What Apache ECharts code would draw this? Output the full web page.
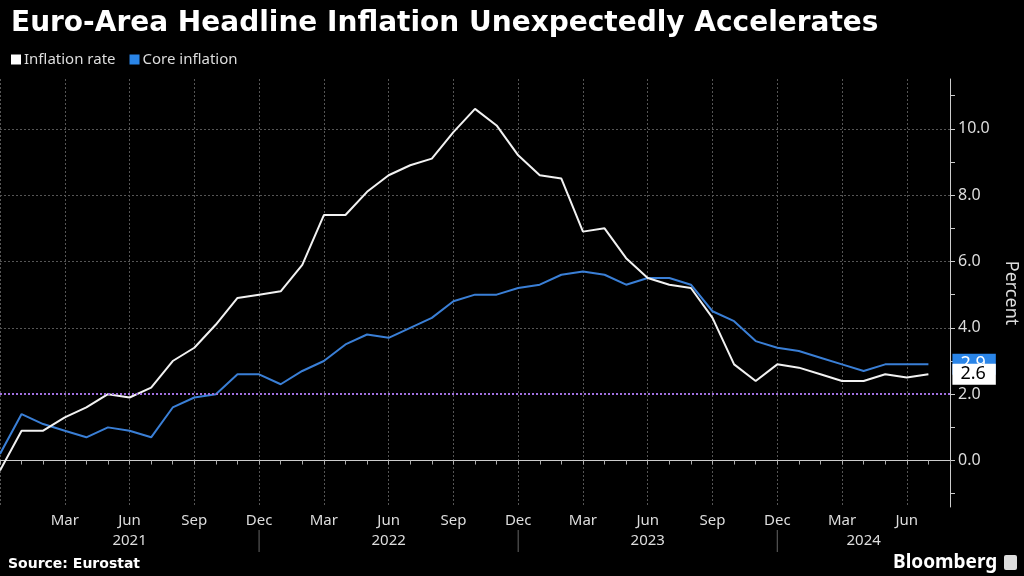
<!DOCTYPE html>
<html>
<head>
<meta charset="utf-8">
<script src="https://cdn.jsdelivr.net/npm/echarts@6/dist/echarts.min.js"></script>
<style>
html,body{margin:0;padding:0;background:#000;}
#chart{width:1024px;height:576px;}
</style>
</head>
<body>
<div id="chart"></div>
<script>
// Months from Dec 2020 to Aug 2024 (last slot is empty space before the axis)
const months = [
  '2020-12',
  '2021-01','2021-02','2021-03','2021-04','2021-05','2021-06','2021-07','2021-08','2021-09','2021-10','2021-11','2021-12',
  '2022-01','2022-02','2022-03','2022-04','2022-05','2022-06','2022-07','2022-08','2022-09','2022-10','2022-11','2022-12',
  '2023-01','2023-02','2023-03','2023-04','2023-05','2023-06','2023-07','2023-08','2023-09','2023-10','2023-11','2023-12',
  '2024-01','2024-02','2024-03','2024-04','2024-05','2024-06','2024-07','2024-08'
];
const inflationRate = [
  -0.3,
  0.9,0.9,1.3,1.6,2.0,1.9,2.2,3.0,3.4,4.1,4.9,5.0,
  5.1,5.9,7.4,7.4,8.1,8.6,8.9,9.1,9.9,10.6,10.1,9.2,
  8.6,8.5,6.9,7.0,6.1,5.5,5.3,5.2,4.3,2.9,2.4,2.9,
  2.8,2.6,2.4,2.4,2.6,2.5,2.6
];
const coreInflation = [
  0.2,
  1.4,1.1,0.9,0.7,1.0,0.9,0.7,1.6,1.9,2.0,2.6,2.6,
  2.3,2.7,3.0,3.5,3.8,3.7,4.0,4.3,4.8,5.0,5.0,5.2,
  5.3,5.6,5.7,5.6,5.3,5.5,5.5,5.3,4.5,4.2,3.6,3.4,
  3.3,3.1,2.9,2.7,2.9,2.9,2.9
];
const yLabelValues = [0,2,4,6,8,10];
const yTickValues = [-1,0,1,2,3,4,5,6,7,8,9,10,11];
const targetValue = 2.0;
const monthNames = ['Jan','Feb','Mar','Apr','May','Jun','Jul','Aug','Sep','Oct','Nov','Dec'];
const yearLabelIdx = [6,18,30,40];
const yearSepIdx = [12,24,36];
const Y_MIN = -1.4, Y_MAX = 11.5;

const FONT = 'Noto Sans';
const monthOf = v => parseInt(v.split('-')[1],10);
const isQuarter = (i,v) => i > 0 && [3,6,9,12].includes(monthOf(v));
const isQuarterGrid = (i,v) => [3,6,9,12].includes(monthOf(v));

const chart = echarts.init(document.getElementById('chart'));
chart.setOption({
  backgroundColor:'#000',
  animation:false,
  title:{
    text:'Euro-Area Headline Inflation Unexpectedly Accelerates',
    left:6, top:5,
    textStyle:{color:'#fff', fontSize:28, fontWeight:'bold', fontFamily:'DejaVu Sans'}
  },
  legend:{
    left:6, top:47,
    icon:'rect', itemWidth:10, itemHeight:10, itemGap:14,
    textStyle:{color:'#ddd', fontSize:15, fontFamily:FONT, padding:[0,0,0,-2]},
    data:['Inflation rate','Core inflation']
  },
  grid:{left:0, right:74, top:79, bottom:69, containLabel:false, outerBoundsMode:'none'},
  xAxis:[{
    type:'category', data:months, boundaryGap:false, position:'bottom',
    axisLine:{lineStyle:{color:'#ccc', width:1}},
    axisTick:{show:true, interval:0, length:4, lineStyle:{color:'#aaa'}},
    axisLabel:{interval:isQuarter, formatter:v=>monthNames[monthOf(v)-1], color:'#ddd', fontSize:15, fontFamily:FONT, margin:6},
    splitLine:{show:true, interval:isQuarterGrid, lineStyle:{color:'#555', type:[2,2], width:1}}
  },{
    type:'category', data:months, boundaryGap:false, position:'bottom', offset:22,
    axisLine:{show:false},
    axisTick:{show:false},
    axisLabel:{interval:(i)=>yearLabelIdx.includes(i), formatter:v=>v.split('-')[0], color:'#ddd', fontSize:15, fontFamily:FONT, margin:4},
    splitLine:{show:false}
  }],
  yAxis:[{
    type:'value', position:'right', min:Y_MIN, max:Y_MAX,
    name:'Percent', nameLocation:'middle', nameRotate:-90, nameGap:52,
    nameTextStyle:{color:'#ddd', fontSize:18, fontFamily:FONT},
    axisLine:{show:true, lineStyle:{color:'#ccc'}},
    axisTick:{show:true, customValues:yTickValues, length:5, lineStyle:{color:'#ccc'}},
    axisLabel:{customValues:yLabelValues, formatter:v=>v.toFixed(1), color:'#ddd', fontSize:16, fontFamily:FONT, margin:8},
    splitLine:{show:false}
  },{
    type:'value', position:'right', min:Y_MIN, max:Y_MAX,
    axisLine:{show:false},
    axisTick:{show:false, customValues:yLabelValues},
    axisLabel:{show:false, customValues:yLabelValues},
    splitLine:{show:true, lineStyle:{color:'#555', type:[2,2], width:1}}
  }],
  series:[{
    name:'Inflation rate', type:'line', data:inflationRate, z:4,
    symbol:'none', lineStyle:{color:'#f2f2f2', width:2}, itemStyle:{color:'#ffffff'},
    endLabel:{show:true, formatter:p=>Number(p.value).toFixed(1), distance:24,
      backgroundColor:'#fff', color:'#000', fontSize:18, fontFamily:FONT, padding:[2,10,1,8]},
    markLine:{symbol:'none', silent:true, label:{show:false},
      lineStyle:{color:'#a070e0', type:[2,2], width:2},
      data:[{yAxis:targetValue}]}
  },{
    name:'Core inflation', type:'line', data:coreInflation, z:3,
    symbol:'none', lineStyle:{color:'#3a7fd6', width:2}, itemStyle:{color:'#2a85e8'},
    endLabel:{show:true, formatter:p=>Number(p.value).toFixed(1), distance:24,
      backgroundColor:'#2a85e8', color:'#fff', fontSize:18, fontFamily:FONT, padding:[2,10,1,8]}
  },{
    name:'year-separators', type:'custom', clip:false, silent:true,
    data:yearSepIdx.map(i=>[i]),
    renderItem:(params, api)=>{
      const p = api.coord([api.value(0), Y_MIN]);
      return {type:'line', shape:{x1:p[0], y1:p[1]+23, x2:p[0], y2:p[1]+45},
        style:{stroke:'#666', lineWidth:1}};
    }
  }],
  graphic:[
    {type:'text', left:8, top:557, style:{text:'Source: Eurostat', fill:'#fff', font:'bold 14px "DejaVu Sans"'}},
    {type:'text', left:893, top:553, style:{text:'Bloomberg', fill:'#fff', font:'bold 19px "Noto Sans"'}},
    {type:'rect', left:1004, top:555, shape:{width:13, height:15, r:2}, style:{fill:'#ddd'}}
  ]
});
</script>
</body>
</html>
